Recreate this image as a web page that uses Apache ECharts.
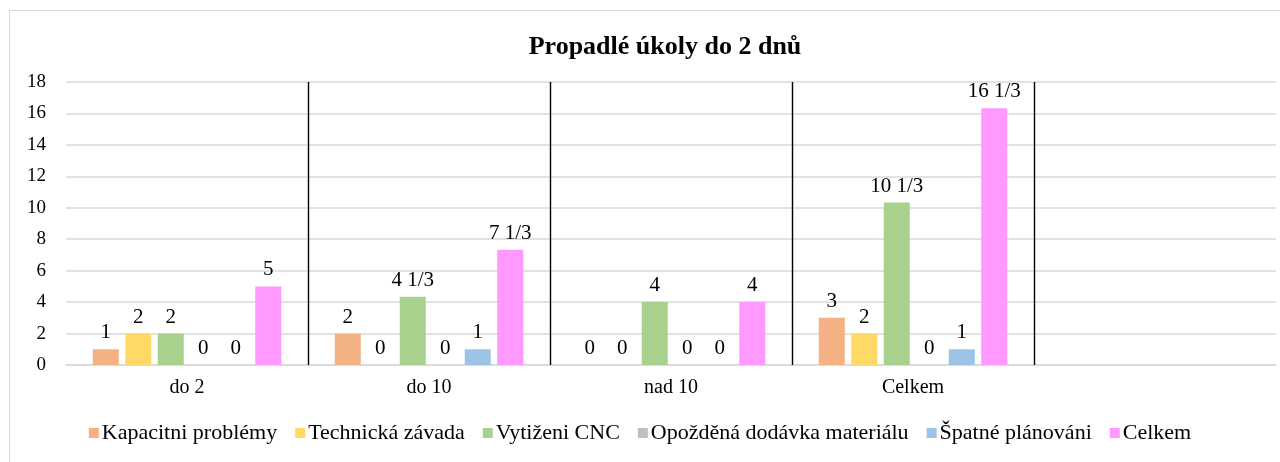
<!DOCTYPE html>
<html>
<head>
<meta charset="utf-8">
<script src="https://cdn.jsdelivr.net/npm/echarts@6/dist/echarts.min.js"></script>
<style>
html,body{margin:0;padding:0;background:#fff;}
#chart{position:absolute;left:0;top:0;width:1280px;height:462px;}
#frame{position:absolute;left:9px;top:10px;width:1290px;height:470px;border:1px solid #d9d9d9;box-sizing:border-box;pointer-events:none;}
</style>
</head>
<body>
<div id="chart"></div>
<div id="frame"></div>
<script>
const titleText = 'Propadlé úkoly do 2 dnů';
const categories = ['do 2', 'do 10', 'nad 10', 'Celkem', ''];
const seriesNames = ['Kapacitni problémy', 'Technická závada', 'Vytiženi CNC', 'Opožděná dodávka materiálu', 'Špatné plánováni', 'Celkem'];
const kapacitni = [1, 2, 0, 3, null];
const technicka = [2, 0, 0, 2, null];
const vytizeni = [2, 4.3333, 4, 10.3333, null];
const opozdena = [0, 0, 0, 0, null];
const spatne = [0, 1, 0, 1, null];
const celkem = [5, 7.3333, 4, 16.3333, null];
const separators = [1, 2, 3, 4];
const yTicks = [0, 2, 4, 6, 8, 10, 12, 14, 16, 18];

const colors = ['#F4B183', '#FFD966', '#A9D18E', '#BFBFBF', '#9DC3E6', '#FF99FF'];
const values = [kapacitni, technicka, vytizeni, opozdena, spatne, celkem];
const FONT = '"Liberation Serif", "DejaVu Serif", serif';

function fmt(v) {
  if (v == null) return '';
  const whole = Math.floor(v + 1e-6);
  const frac = v - whole;
  if (frac < 0.01) return String(whole);
  for (let d = 2; d <= 10; d++) {
    const n = Math.round(frac * d);
    if (Math.abs(frac - n / d) < 0.01) return (whole ? whole + ' ' : '') + n + '/' + d;
  }
  return v.toFixed(2);
}

const series = seriesNames.map((name, i) => ({
  name: name,
  type: 'bar',
  data: values[i],
  barWidth: 26,
  barGap: '25%',
  itemStyle: { color: colors[i] },
  label: {
    show: true,
    position: 'top',
    distance: 6,
    fontFamily: FONT,
    fontSize: 21,
    color: '#000',
    formatter: p => fmt(p.value)
  }
}));

series.push({
  name: '',
  type: 'line',
  xAxisIndex: 1,
  yAxisIndex: 0,
  data: [],
  silent: true,
  markLine: {
    silent: true,
    symbol: 'none',
    label: { show: false },
    lineStyle: { color: '#000', width: 1.4, type: 'solid' },
    data: separators.map(s => ({ xAxis: s }))
  }
});

const chart = echarts.init(document.getElementById('chart'));
chart.setOption({
  animation: false,
  backgroundColor: '#fff',
  title: {
    text: titleText,
    left: 660,
    textAlign: 'center',
    top: 29,
    textStyle: { fontFamily: FONT, fontSize: 26, fontWeight: 'bold', color: '#000' }
  },
  legend: {
    data: seriesNames,
    bottom: 13,
    left: 'center',
    itemWidth: 10,
    itemHeight: 10,
    itemGap: 18,
    icon: 'rect',
    textStyle: { fontFamily: FONT, fontSize: 22, color: '#000', padding: [0, 0, 0, -2] }
  },
  grid: { left: 66, right: 4, top: 82, bottom: 97, containLabel: false },
  xAxis: [
    {
      type: 'category',
      data: categories,
      axisLine: { show: true, lineStyle: { color: '#d9d9d9', width: 1.5 } },
      axisTick: { show: false },
      axisLabel: { fontFamily: FONT, fontSize: 20, color: '#000', margin: 13 },
      splitLine: { show: false }
    },
    {
      type: 'value',
      min: 0,
      max: categories.length,
      show: false
    }
  ],
  yAxis: {
    type: 'value',
    min: yTicks[0],
    max: yTicks[yTicks.length - 1],
    interval: yTicks[1] - yTicks[0],
    axisLine: { show: false },
    axisTick: { show: false },
    axisLabel: { fontFamily: FONT, fontSize: 19, color: '#000', margin: 20 },
    splitLine: { lineStyle: { color: '#d9d9d9', width: 1.5 } }
  },
  series: series
});
</script>
</body>
</html>
